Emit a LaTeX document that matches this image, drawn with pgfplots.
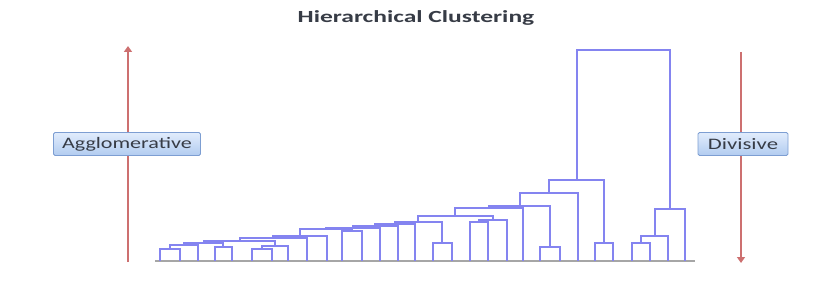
\documentclass[border=0pt]{standalone}
\usepackage{pgfplots}
\pgfplotsset{compat=1.18}
\usepackage{fontspec}
\setmainfont{Carlito}
\usetikzlibrary{arrows.meta}
\definecolor{dend}{RGB}{132,132,240}
\definecolor{arr}{RGB}{205,112,112}
\definecolor{boxtop}{RGB}{225,236,252}
\definecolor{boxbot}{RGB}{178,204,240}
\definecolor{boxdraw}{RGB}{125,158,210}
\definecolor{txt}{RGB}{55,60,70}
\newcommand{\lnk}[5]{\addplot[dend, line width=1.3bp] coordinates {(#1,#2) (#1,#5) (#3,#5) (#3,#4)};}
\begin{document}
\begin{tikzpicture}
\begin{axis}[width=835bp,height=287bp,scale only axis,
  xmin=0,xmax=835,ymin=0,ymax=287,y dir=reverse,hide axis,clip=false]
\addplot[draw=none] coordinates {(0,0) (835,287)};
% baseline
\addplot[gray!70, line width=1.2bp] coordinates {(155,261) (695,261)};
% dendrogram links: x1, ybottom1, x2, ybottom2, height
\lnk{160}{261}{180}{261}{249}
\lnk{215}{261}{232}{261}{247}
\lnk{170}{249}{198}{261}{245}
\lnk{184}{245}{223}{247}{243}
\lnk{252}{261}{272}{261}{249}
\lnk{262}{249}{288}{261}{246}
\lnk{204}{243}{275}{246}{241}
\lnk{240}{241}{307}{261}{238}
\lnk{273}{238}{327}{261}{236}
\lnk{342}{261}{362}{261}{231}
\lnk{300}{236}{352}{231}{229}
\lnk{326}{229}{380}{261}{228}
\lnk{353}{228}{398}{261}{226}
\lnk{433}{261}{452}{261}{243}
\lnk{375}{226}{415}{261}{224}
\lnk{395}{224}{442}{243}{222}
\lnk{470}{261}{488}{261}{222}
\lnk{479}{222}{507}{261}{220}
\lnk{418}{222}{493}{220}{216}
\lnk{455}{216}{523}{261}{208}
\lnk{540}{261}{560}{261}{247}
\lnk{489}{208}{550}{247}{206}
\lnk{520}{206}{578}{261}{193}
\lnk{595}{261}{613}{261}{243}
\lnk{549}{193}{604}{243}{180}
\lnk{632}{261}{650}{261}{243}
\lnk{641}{243}{668}{261}{236}
\lnk{655}{236}{685}{261}{209}
\lnk{577}{180}{670}{209}{50}
% arrows
\addplot[arr, line width=2.6bp, -{Triangle[length=6bp,width=8bp]}] coordinates {(128,262) (128,46)};
\addplot[arr, line width=2.6bp, -{Triangle[length=6bp,width=8bp]}] coordinates {(741,52) (741,263)};
% labels
\node[draw=boxdraw, line width=0.8bp, top color=boxtop, bottom color=boxbot, rounded corners=1.5bp,
  minimum width=147bp, minimum height=23bp, inner sep=0pt, text=txt, font=\fontsize{16bp}{18bp}\selectfont]
  at (axis cs:127,144) {\scalebox{1.38}[1]{Agglomerative}};
\node[draw=boxdraw, line width=0.8bp, top color=boxtop, bottom color=boxbot, rounded corners=1.5bp,
  minimum width=90bp, minimum height=23bp, inner sep=0pt, text=txt, font=\fontsize{16bp}{18bp}\selectfont]
  at (axis cs:743,144) {\scalebox{1.42}[1]{Divisive}};
% title
\node[text=txt, font=\bfseries\fontsize{17bp}{19bp}\selectfont] at (axis cs:416,18)
  {\scalebox{1.5}[1]{Hierarchical Clustering}};
\end{axis}
\end{tikzpicture}
\end{document}
